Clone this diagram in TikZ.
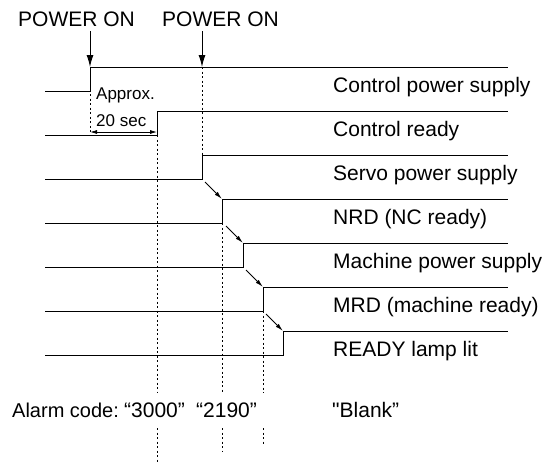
\documentclass[tikz,border=0pt]{standalone}
\usepackage{fontspec}
\setmainfont{Liberation Sans}
\newfontfamily\rawfont{Liberation Sans}[Ligatures=ResetAll]
\usetikzlibrary{arrows.meta}
\begin{document}
\begin{tikzpicture}[x=1pt,y=-1pt,
  sig/.style={line width=0.9pt},
  guide/.style={line width=0.8pt, dash pattern=on 2pt off 2.5pt},
  lbl/.style={anchor=base west, inner sep=0pt, font=\fontsize{21}{25}\selectfont},
  alrm/.style={anchor=base west, inner sep=0pt, font=\fontsize{20}{24}\selectfont},
  smalltxt/.style={anchor=base west, inner sep=0pt, font=\fontsize{17}{20}\selectfont},
  pwr/.style={line width=1pt, -{Latex[length=12pt,width=7pt]}},
  seq/.style={line width=0.9pt, -{Latex[length=8pt,width=4pt]}},
  span/.style={line width=0.8pt, {Latex[length=7pt,width=4pt]}-{Latex[length=7pt,width=4pt]}},
]
\useasboundingbox (0,0) rectangle (546,463);

% signal rows: low start, rise bottom, rise top, high end
\coordinate (a0) at (45,91);  \coordinate (b0) at (90,91);  \coordinate (c0) at (90,67);  \coordinate (d0) at (508,67);
\coordinate (a1) at (45,135); \coordinate (b1) at (157,135); \coordinate (c1) at (157,111); \coordinate (d1) at (508,111);
\coordinate (a2) at (45,179); \coordinate (b2) at (202,179); \coordinate (c2) at (202,155); \coordinate (d2) at (508,155);
\coordinate (a3) at (45,223); \coordinate (b3) at (222,223); \coordinate (c3) at (222,199); \coordinate (d3) at (508,199);
\coordinate (a4) at (45,267); \coordinate (b4) at (243,267); \coordinate (c4) at (243,243); \coordinate (d4) at (508,243);
\coordinate (a5) at (45,311); \coordinate (b5) at (263,311); \coordinate (c5) at (263,287); \coordinate (d5) at (508,287);
\coordinate (a6) at (45,355); \coordinate (b6) at (283,355); \coordinate (c6) at (283,331); \coordinate (d6) at (508,331);

\foreach \i in {0,...,6} {\draw[sig] (a\i) -- (b\i) -- (c\i) -- (d\i);}

% labels
\node[lbl] (t0) at (333,92)  {Control power supply};
\node[lbl] (t1) at (333,136) {Control ready};
\node[lbl] (t2) at (333,180) {Servo power supply};
\node[lbl] (t3) at (333,224) {NRD (NC ready)};
\node[lbl] (t4) at (333,268) {Machine power supply};
\node[lbl] (t5) at (333,312) {MRD (machine ready)};
\node[lbl] (t6) at (333,356) {READY lamp lit};

% power on
\node[lbl] (p1) at (18,26)  {POWER ON};
\node[lbl] (p2) at (162,26) {POWER ON};
\coordinate (p1s) at (90,31);
\coordinate (p2s) at (202,31);
\coordinate (p2e) at (202,67);
\draw[pwr] (p1s) -- (c0);
\draw[pwr] (p2s) -- (p2e);

% approx 20 sec
\node[smalltxt] (ap1) at (96,99)  {Approx.};
\node[smalltxt] (ap2) at (96,126) {20 sec};
\coordinate (s1) at (90,132);
\coordinate (s2) at (157,132);
\draw[guide] (c0) -- (s1);
\draw[span] (s1) -- (s2);
\draw[guide] (p2e) -- (c2);

% sequence arrows
\coordinate (q3) at (205,182); \draw[seq] (q3) -- (c3);
\coordinate (q4) at (226,226); \draw[seq] (q4) -- (c4);
\coordinate (q5) at (246,270); \draw[seq] (q5) -- (c5);
\coordinate (q6) at (266,314); \draw[seq] (q6) -- (c6);

% vertical guides to alarm codes
\coordinate (g1a) at (157,393); \coordinate (g1b) at (157,428); \coordinate (g1c) at (157,463);
\coordinate (g3a) at (222,393); \coordinate (g3b) at (222,428); \coordinate (g3c) at (222,452);
\coordinate (g5a) at (263,393); \coordinate (g5b) at (263,428); \coordinate (g5c) at (263,445);
\draw[guide] (b1) -- (g1a) (g1b) -- (g1c);
\draw[guide] (b3) -- (g3a) (g3b) -- (g3c);
\draw[guide] (b5) -- (g5a) (g5b) -- (g5c);

\node[alrm] (al) at (12,417) {Alarm code:};
\node[lbl] (c3000) at (124,417) {“3000”};
\node[lbl] (c2190) at (196,417) {“2190”};
\node[lbl] (bl) at (332,417) {{\rawfont"}Blank”};
\end{tikzpicture}
\end{document}
